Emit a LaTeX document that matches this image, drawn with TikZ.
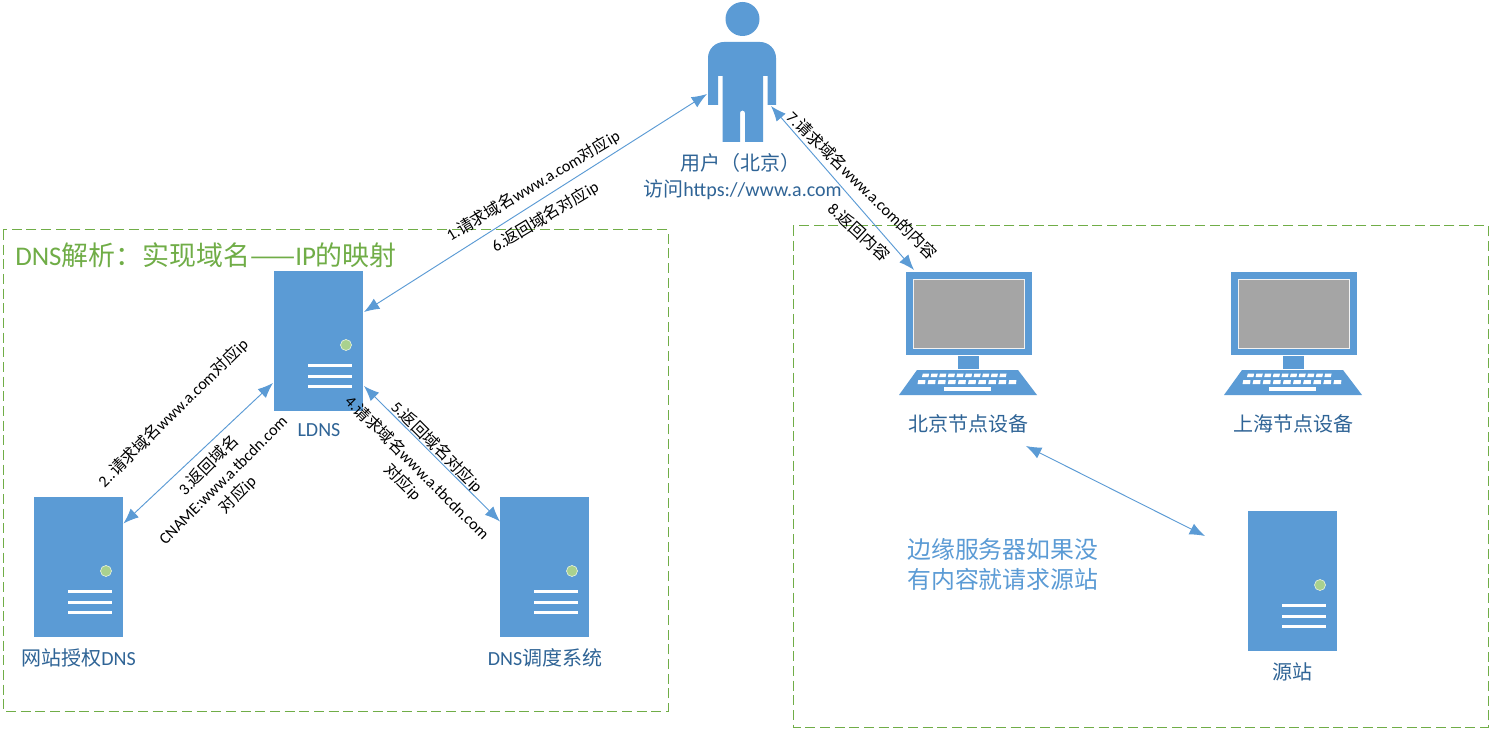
\documentclass[tikz,border=0pt]{standalone}
\usepackage{fontspec}
\setmainfont{Carlito}
\newfontfamily\zhfont{Noto Sans CJK SC}
\newcommand{\zh}[1]{{\zhfont #1}}
\definecolor{iconblue}{HTML}{5B9BD5}
\definecolor{framegreen}{HTML}{70AD47}
\definecolor{dotgreen}{HTML}{A9D18E}
\definecolor{screengray}{HTML}{A5A5A5}
\definecolor{captionblue}{HTML}{2F6496}
\tikzset{
  flow/.style={draw=iconblue,line width=0.7pt,{Latex[length=11.5pt,width=9pt]}-{Latex[length=11.5pt,width=9pt]}},
  zone/.style={draw=framegreen,line width=0.75pt,dash pattern=on 7.5pt off 3.5pt},
  serverbody/.style={fill=iconblue,draw=none,minimum width=66.75pt,minimum height=105pt,inner sep=0pt},
  caption/.style={text=captionblue,font=\fontsize{15}{18}\selectfont,inner sep=0pt},
  steplabel/.style={text=black,font=\fontsize{12.1}{15.5}\selectfont,align=center,inner sep=0pt},
  notelabel/.style={text=iconblue,font=\fontsize{17.9}{22.5}\selectfont,align=left,inner sep=0pt,anchor=west},
}
\usetikzlibrary{arrows.meta,calc}
% Server tower: body node plus status lamp and three drive slots
\newcommand{\serverat}[3]{%
  \node[serverbody] (#1) at (#2,#3) {};
  \fill[dotgreen,draw=white!70!dotgreen,line width=0.5pt] (#2+27.5,#3+4) circle (5.5);
  \foreach \yy in {24,35,45}
    \fill[white] (#2-11,#3+\yy-1.5) rectangle (#2+33.5,#3+\yy+1.5);
}
% Desktop computer: monitor, stand and keyboard, origin at the monitor's top left
\newcommand{\computerat}[3]{%
  \begin{scope}[shift={(#2,#3)}]
    \node[fill=iconblue,inner sep=0pt,minimum width=94.5pt,minimum height=62.25pt,anchor=north west] (#1) at (0,0) {};
    \fill[screengray,draw=white!85!screengray,line width=0.6pt] (7.5,7) rectangle (118,76);
    \fill[iconblue] (51.5,84) rectangle (73,97);
    \fill[iconblue] (11,98) -- (112,98) -- (131,123) -- (-7,123) -- cycle;
    \foreach \k in {0,...,9} {
      \fill[white] ({16+\k*8.6+0.8},101.5) -- ({16+\k*8.6+7.2},101.5) -- ({16+\k*8.6+6.4},105) -- ({16+\k*8.6},105) -- cycle;
      \fill[white] ({11.5+\k*10.1+0.8},108) -- ({11.5+\k*10.1+8},108) -- ({11.5+\k*10.1+7.6},112) -- ({11.5+\k*10.1},112) -- cycle;
    }
    \fill[white] (38,115) rectangle (85,118.5);
  \end{scope}
}
\begin{document}
\begin{tikzpicture}[x=0.75pt,y=-0.75pt]
\useasboundingbox (0,0) rectangle (1496,734);
\fill[white] (0,0) rectangle (1496,734);

% Zones
\draw[zone] (3,230) rectangle (668,711);
\draw[zone] (793,226) rectangle (1488,727);
\node[text=framegreen,font=\fontsize{20.2}{24}\selectfont,inner sep=0pt,anchor=west] (zonetitle) at (15,255)
  {DNS\zh{解析：实现域名——}IP\zh{的映射}};

% User figure
\node[circle,fill=iconblue,inner sep=0pt,minimum size=25.5pt] (head) at (742.5,19) {};
\fill[iconblue]
  (708,58) arc[start angle=180,end angle=270,radius=16] -- (760,42) arc[start angle=270,end angle=360,radius=16]
  -- (776,105) -- (767.5,105) -- (767.5,76) -- (763,76) -- (763,142) -- (745,142) -- (745,113)
  arc[start angle=0,end angle=-180,radius=2.5] -- (740,142) -- (722.5,142) -- (722.5,76) -- (718,76) -- (718,105) -- (708,105) -- cycle;
\coordinate (userleft) at (707,94);
\coordinate (userright) at (771,106);
\node[caption] (usercap) at (738,163) {\hspace{4pt}\zh{用户（北京）}};
\node[caption] (usercap2) at (742.5,190) {\zh{访问}https://www.a.com};

% DNS side
\serverat{ldns}{318.5}{341}
\serverat{authdns}{78.5}{567}
\serverat{sched}{544.5}{567}
\node[caption] (ldnscap) at (319,430) {LDNS};
\node[caption] (authcap) at (78.5,658) {\zh{网站授权}DNS};
\node[caption] (schedcap) at (545,658) {DNS\zh{调度系统}};
\coordinate (ldnsR) at (364,312);
\coordinate (ldnsL) at (273,383);
\coordinate (ldnsB) at (364,386);
\coordinate (authR) at (123.5,523.5);
\coordinate (schedL) at (500,521.5);

% Edge side
\computerat{bj}{906}{272}
\computerat{sh}{1231}{272}
\serverat{origin}{1292.5}{581}
\node[caption] (bjcap) at (968,424) {\zh{北京节点设备}};
\node[caption] (shcap) at (1293,424) {\zh{上海节点设备}};
\node[caption] (origincap) at (1292,672) {\zh{源站}};
\coordinate (bjT) at (914,270);
\coordinate (bjB) at (1026,446);
\coordinate (originL) at (1205,536);
\node[notelabel] (note) at (907,564) {\zh{边缘服务器如果没}\\\zh{有内容就请求源站}};

% Request flows
\draw[flow] (userleft) -- (ldnsR);
\draw[flow] (userright) -- (bjT);
\draw[flow] (ldnsL) -- (authR);
\draw[flow] (ldnsB) -- (schedL);
\draw[flow] (bjB) -- (originL);

% Step labels
\node[steplabel,rotate=31] (s1) at (533,186) {1.\zh{请求域名}www.a.com\zh{对应}ip};
\node[steplabel,rotate=31] (s6) at (545,217) {6.\zh{返回域名对应}ip};
\node[steplabel,rotate=-44.5] (s7) at (862,185) {7.\zh{请求域名}www.a.com\zh{的内容}};
\node[steplabel,rotate=-43] (s8) at (859,232) {8.\zh{返回内容}};
\node[steplabel,rotate=44.5] (s2) at (173,413) {2..\zh{请求域名}www.a.com\zh{对应}ip};
\node[steplabel,rotate=45] (s3) at (223,480) {3.\zh{返回域名}\\CNAME:www.a.tbcdn.com\\\zh{对应}ip};
\node[steplabel,rotate=-45] (s4) at (410,475) {4.\zh{请求域名}www.a.tbcdn.com\\\zh{对应}ip};
\node[steplabel,rotate=-45] (s5) at (437,447) {5.\zh{返回域名对应}ip};
\end{tikzpicture}
\end{document}
